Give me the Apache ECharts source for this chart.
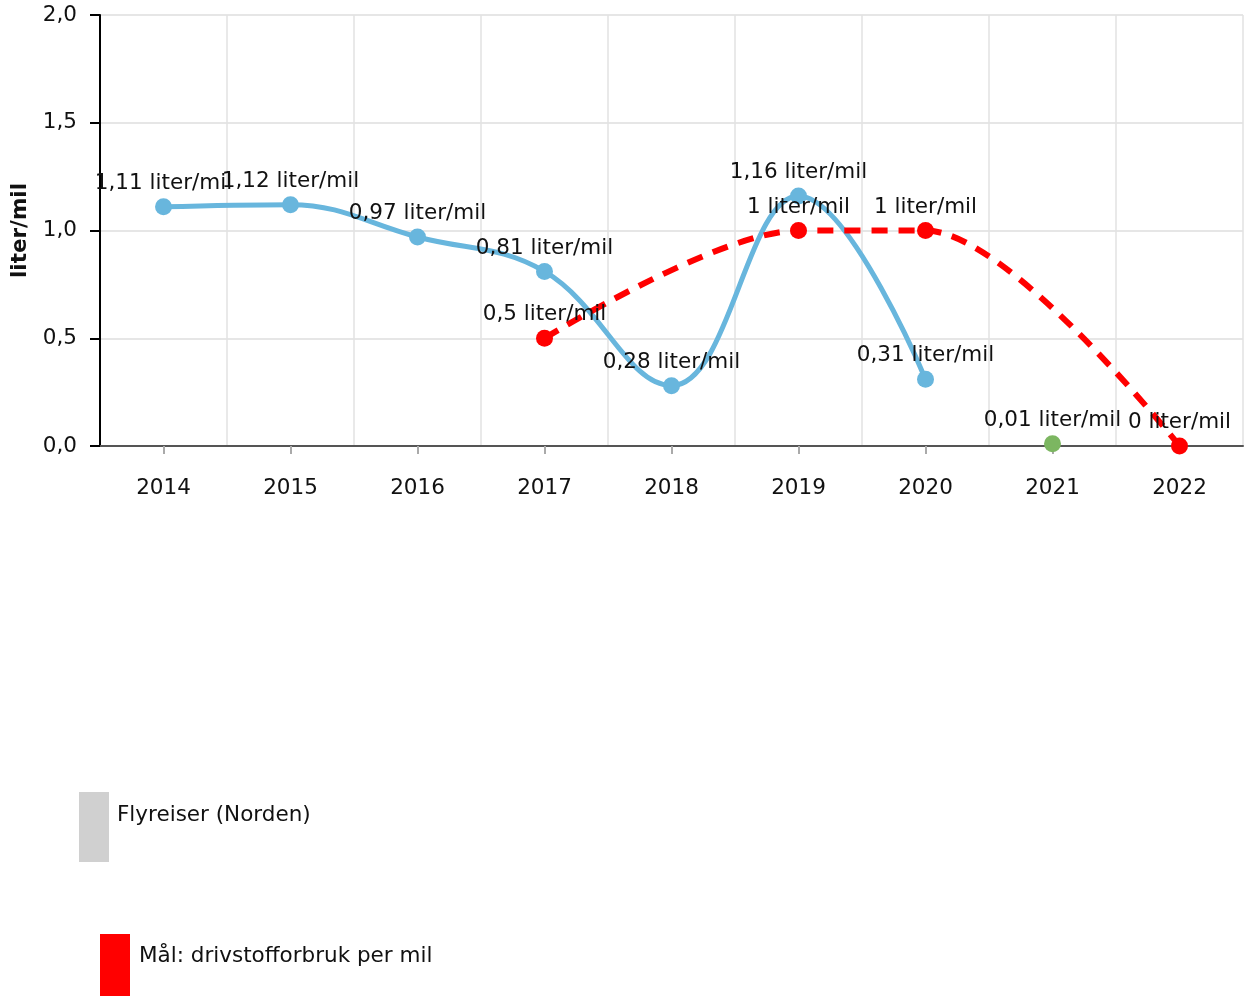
<!DOCTYPE html>
<html>
<head>
<meta charset="utf-8">
<title>Flyreiser (Norden) - liter/mil</title>
<script src="https://cdn.jsdelivr.net/npm/echarts@6/dist/echarts.min.js"></script>
<style>
  html, body { margin: 0; padding: 0; background: #fff; }
  #chart { width: 1247px; height: 997px; }
</style>
</head>
<body>
<div id="chart"></div>
<script>
// kategorier (år)
var years = ['2014', '2015', '2016', '2017', '2018', '2019', '2020', '2021', '2022'];
// drivstofforbruk per mil, flyreiser (Norden)
var flyreiser = [1.11, 1.12, 0.97, 0.81, 0.28, 1.16, 0.31, null, null];
// 2021 vises som eget punkt (grønt)
var flyreiser2021 = [null, null, null, null, null, null, null, 0.01, null];
// mål: drivstofforbruk per mil
var maal = [null, null, null, 0.5, null, 1, 1, null, 0];
var yTicks = [0, 0.5, 1, 1.5, 2];

var FONT = 'DejaVu Sans, Verdana, sans-serif';
var FS = 21.5;

function komma(v) {
  return String(v).replace('.', ',');
}
function etikett(p) {
  return komma(p.value) + ' liter/mil';
}

var chart = echarts.init(document.getElementById('chart'));
var option = {
  animation: false,
  textStyle: { fontFamily: FONT },
  grid: { left: 100, top: 15, right: 4, bottom: 551, containLabel: false, outerBoundsMode: 'none' },
  legend: [{
    left: 79, top: 792, padding: 0,
    orient: 'vertical',
    itemWidth: 30, itemHeight: 70, itemGap: 0,
    selectedMode: false,
    formatter: '{a|{name}}',
    textStyle: {
      fontFamily: FONT, fontSize: FS, color: '#111',
      rich: { a: { fontFamily: FONT, fontSize: FS, color: '#111', padding: [0, 0, 24, 3] } }
    },
    data: [{ name: 'Flyreiser (Norden)', icon: 'rect', itemStyle: { color: '#d0d0d0', borderWidth: 0 } }]
  }, {
    left: 100, top: 934, padding: 0,
    orient: 'vertical',
    itemWidth: 30, itemHeight: 62, itemGap: 0,
    selectedMode: false,
    formatter: '{a|{name}}',
    textStyle: {
      fontFamily: FONT, fontSize: FS, color: '#111',
      rich: { a: { fontFamily: FONT, fontSize: FS, color: '#111', padding: [0, 0, 18, 4] } }
    },
    data: [{ name: 'Mål: drivstofforbruk per mil', icon: 'rect', itemStyle: { color: '#ff0000', borderWidth: 0 } }]
  }],
  xAxis: {
    type: 'category',
    data: years,
    boundaryGap: true,
    axisLine: { lineStyle: { color: '#555', width: 2 } },
    axisTick: { show: true, alignWithLabel: true, length: 8, lineStyle: { color: '#aaa', width: 2 } },
    axisLabel: { fontFamily: FONT, fontSize: FS, color: '#111', margin: 31 },
    splitLine: { show: true, lineStyle: { color: '#e2e2e2', width: 1.5 } }
  },
  yAxis: {
    type: 'value',
    min: yTicks[0],
    max: yTicks[yTicks.length - 1],
    interval: 0.5,
    name: 'liter/mil',
    nameLocation: 'middle',
    nameGap: 67,
    nameTextStyle: { fontFamily: FONT, fontSize: FS, fontWeight: 'bold', color: '#111' },
    axisLine: { show: true, lineStyle: { color: '#000', width: 2 } },
    axisTick: { show: true, length: 10, lineStyle: { color: '#000', width: 2 } },
    axisLabel: {
      fontFamily: FONT, fontSize: FS, color: '#111', margin: 23,
      formatter: function (v) { return v.toFixed(1).replace('.', ','); }
    },
    splitLine: { show: true, lineStyle: { color: '#dedede', width: 1.5 } }
  },
  series: [{
    name: 'Flyreiser (Norden)',
    type: 'line',
    data: flyreiser,
    smooth: 0.4,
    symbol: 'circle',
    symbolSize: 17,
    z: 3,
    lineStyle: { color: '#68b6dd', width: 5 },
    itemStyle: { color: '#68b6dd' },
    label: {
      show: true, position: 'top', distance: 4,
      fontFamily: FONT, fontSize: FS, color: '#111',
      formatter: etikett
    }
  }, {
    name: 'Flyreiser (Norden) 2021',
    type: 'line',
    data: flyreiser2021,
    symbol: 'circle',
    symbolSize: 17,
    z: 3,
    itemStyle: { color: '#7cb661' },
    label: {
      show: true, position: 'top', distance: 4,
      fontFamily: FONT, fontSize: FS, color: '#111',
      formatter: etikett
    }
  }, {
    name: 'Mål: drivstofforbruk per mil',
    type: 'line',
    data: maal,
    connectNulls: true,
    smooth: 0.3,
    symbol: 'circle',
    symbolSize: 17,
    z: 4,
    lineStyle: { color: '#ff0000', width: 6, type: [16, 11] },
    itemStyle: { color: '#ff0000' },
    label: {
      show: true, position: 'top', distance: 4,
      fontFamily: FONT, fontSize: FS, color: '#111',
      formatter: etikett
    }
  }]
};
chart.setOption(option);
</script>
</body>
</html>
